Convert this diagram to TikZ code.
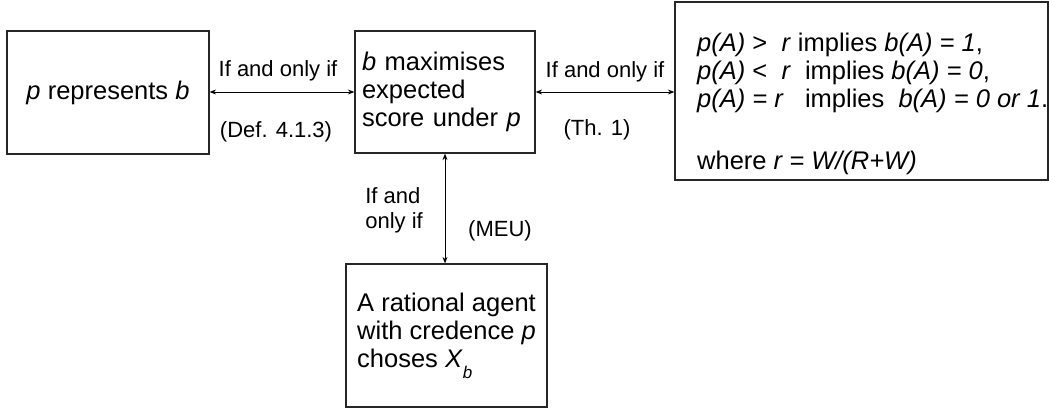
\documentclass[tikz,border=0pt]{standalone}
\usepackage{fontspec}
\setmainfont{Liberation Sans}
\usetikzlibrary{arrows.meta}
\newcommand\mainfs{\fontsize{25.5}{28}\selectfont}
\newcommand\lblfs{\fontsize{22}{25}\selectfont}
\tikzset{
  box/.style={draw=black!85, line width=1.2pt, inner sep=0pt, font=\mainfs},
  lbl/.style={font=\lblfs, inner sep=0pt},
  iff/.style={line width=0.9pt, {Stealth[length=6.5pt,width=5pt]}-{Stealth[length=6.5pt,width=5pt]}},
}
\begin{document}
\begin{tikzpicture}[x=1pt,y=-1pt]
\useasboundingbox (0,0) rectangle (1049,410);
\node[box, minimum width=202pt, minimum height=123pt] (rep) at (108,92.5) {\emph{p} represents \emph{b}};
\node[box, minimum width=180pt, minimum height=122pt, text width=166pt, align=left] (max) at (445,92)
  {\emph{b} maximises\\expected\\score under \emph{p}};
\node[box, minimum width=373pt, minimum height=178pt] (rule) at (861.5,91) {};
\node[font=\mainfs, inner sep=0pt, align=left, anchor=west] (ruletxt) at (697,103.5)
  {\emph{p(A)} >\ \ \emph{r} implies \emph{b(A) = 1},\\
   \emph{p(A)} <\ \ \emph{r}\ \ implies \emph{b(A) = 0},\\
   \emph{p(A) = r}\ \ \ implies\ \ \emph{b(A) = 0 or 1}.\\[34pt]
   where \emph{r = W/(R+W)}};
\node[box, minimum width=201pt, minimum height=143pt, align=left] (agent) at (446.5,335.5)
  {A rational agent\\with credence \emph{p}\\choses \emph{X}\raisebox{-11pt}{\fontsize{17}{17}\selectfont\itshape b}};
\draw[iff] (rep.east |- max.west) -- (max.west)
  node[lbl, midway, anchor=base, yshift=16pt, xshift=-4pt] (l1a) {If and only if}
  node[lbl, midway, anchor=base, yshift=-45pt, xshift=-6pt] (l1b) {(Def. 4.1.3)};
\draw[iff] (max.east) -- (max.east -| rule.west)
  node[lbl, midway, anchor=base, yshift=15pt] (l2a) {If and only if}
  node[lbl, midway, anchor=base, yshift=-43pt, xshift=-8pt] (l2b) {(Th. 1)};
\draw[iff] (max.south) -- (max.south |- agent.north);
\node[lbl, align=left, anchor=east] (l3a) at (423,210) {If and\\only if};
\node[lbl, anchor=base] (l3b) at (500,236) {(MEU)};
\end{tikzpicture}
\end{document}
